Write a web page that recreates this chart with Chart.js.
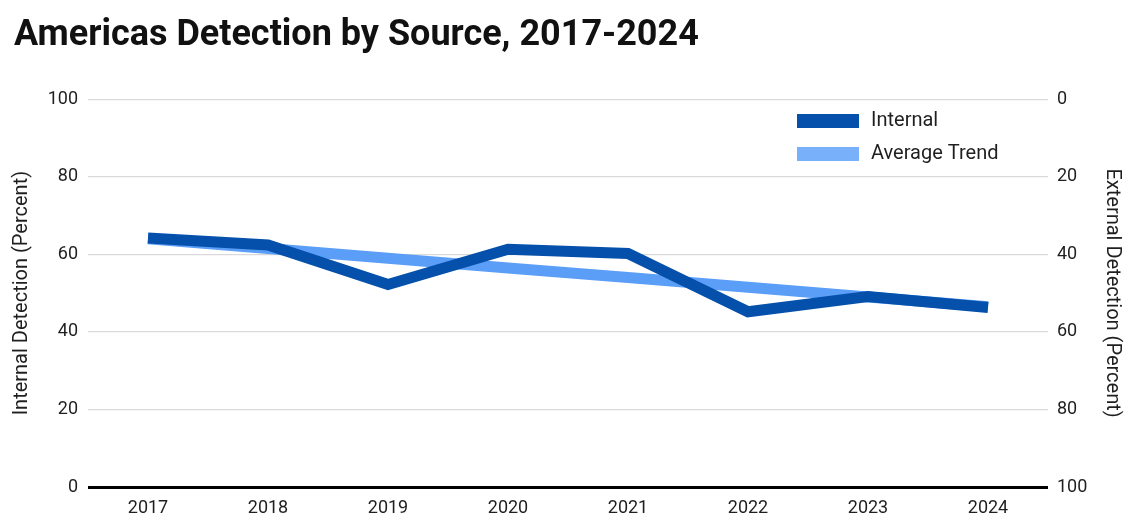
<!DOCTYPE html>
<html>
<head>
<meta charset="utf-8">
<script src="https://cdn.jsdelivr.net/npm/chart.js@4/dist/chart.umd.min.js"></script>
<style>
  html, body { margin: 0; padding: 0; background: #ffffff; }
  #wrap { width: 1132px; height: 530px; position: relative; }
</style>
</head>
<body>
<div id="wrap"><canvas id="c"></canvas></div>
<script>
const years = ['2017', '2018', '2019', '2020', '2021', '2022', '2023', '2024'];
const internalValues = [64.2, 62.4, 52.2, 61.3, 60.2, 45.2, 49.1, 46.3];
const trendValues = [64.0, 61.5, 59.0, 56.5, 54.0, 51.5, 49.0, 46.5];
const leftTicks = [0, 20, 40, 60, 80, 100];
const rightTicks = [0, 20, 40, 60, 80, 100];

const titleText = 'Americas Detection by Source, 2017-2024';
const leftAxisTitle = 'Internal Detection (Percent)';
const rightAxisTitle = 'External Detection (Percent)';
const seriesNames = ['Internal', 'Average Trend'];
const seriesColors = ['#0550AA', '#5A9EF8'];
const legendColors = ['#0550AA', '#78B0F9'];

const FONT = 'Roboto, "Noto Sans", sans-serif';

const legendPlugin = {
  id: 'customLegend',
  afterDraw(chart) {
    const ctx = chart.ctx;
    ctx.save();
    chart.data.datasets.forEach((ds, i) => {
      const y = 114 + i * 33;
      ctx.fillStyle = legendColors[i];
      ctx.fillRect(797, y, 62, 14);
      ctx.fillStyle = '#1f1f1f';
      ctx.font = '20px ' + FONT;
      ctx.textBaseline = 'middle';
      ctx.textAlign = 'left';
      ctx.fillText(ds.label, 871, y + 7);
    });
    ctx.restore();
  }
};

new Chart(document.getElementById('c'), {
  type: 'line',
  data: {
    labels: years,
    datasets: [
      {
        label: seriesNames[0],
        data: internalValues,
        borderColor: seriesColors[0],
        backgroundColor: seriesColors[0],
        borderWidth: 11,
        pointRadius: 0,
        pointHoverRadius: 0,
        tension: 0,
        borderJoinStyle: 'miter',
        borderCapStyle: 'butt',
        yAxisID: 'y'
      },
      {
        label: seriesNames[1],
        data: trendValues,
        borderColor: seriesColors[1],
        backgroundColor: seriesColors[1],
        borderWidth: 11,
        pointRadius: 0,
        pointHoverRadius: 0,
        tension: 0,
        borderCapStyle: 'butt',
        yAxisID: 'y'
      }
    ]
  },
  options: {
    responsive: true,
    maintainAspectRatio: false,
    animation: false,
    devicePixelRatio: 1,
    layout: { padding: { left: 14, right: 8, top: 0, bottom: 0 } },
    plugins: {
      legend: { display: false },
      tooltip: { enabled: false },
      title: {
        display: true,
        text: titleText,
        align: 'start',
        color: '#111111',
        font: { family: FONT, size: 36, weight: 'bold' },
        padding: { top: 14, bottom: 42 }
      }
    },
    scales: {
      x: {
        offset: true,
        grid: { display: false, drawTicks: false },
        border: { display: false },
        ticks: {
          color: '#1f1f1f',
          font: { family: FONT, size: 18 },
          padding: 11,
          maxRotation: 0
        },
        afterFit(scale) { scale.height = 43; }
      },
      y: {
        position: 'left',
        min: 0,
        max: 100,
        afterBuildTicks(scale) { scale.ticks = leftTicks.map(v => ({ value: v })); },
        grid: {
          color: ctx => ctx.tick && ctx.tick.value === 0 ? '#000000' : '#d9d9d9',
          lineWidth: ctx => ctx.tick && ctx.tick.value === 0 ? 3 : 1.3,
          drawTicks: false
        },
        border: { display: false },
        ticks: {
          color: '#1f1f1f',
          font: { family: FONT, size: 18 },
          padding: 10
        },
        title: {
          display: true,
          text: leftAxisTitle,
          color: '#1f1f1f',
          font: { family: FONT, size: 20, lineHeight: 0.8 },
          padding: { top: 0, bottom: 6 }
        },
        afterFit(scale) { scale.width = 74; }
      },
      y2: {
        position: 'right',
        reverse: true,
        min: 0,
        max: 100,
        afterBuildTicks(scale) { scale.ticks = rightTicks.map(v => ({ value: v })); },
        grid: { display: false, drawTicks: false },
        border: { display: false },
        ticks: {
          color: '#1f1f1f',
          font: { family: FONT, size: 18 },
          padding: 9
        },
        title: {
          display: true,
          text: rightAxisTitle,
          color: '#1f1f1f',
          font: { family: FONT, size: 20 },
          padding: { top: 0, bottom: 8 }
        },
        afterFit(scale) { scale.width = 76; }
      }
    }
  },
  plugins: [legendPlugin]
});
</script>
</body>
</html>
